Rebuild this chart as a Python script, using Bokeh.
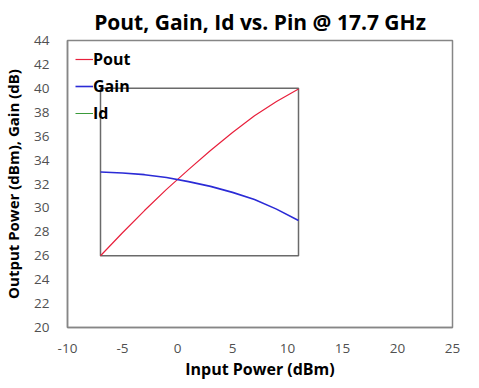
from bokeh.plotting import figure
from bokeh.models import Range1d, FixedTicker, Legend, LegendItem
from bokeh.embed import file_html
from bokeh.resources import INLINE

pin = [-7, -5, -3, -1, 1, 3, 5, 7, 9, 11]
pout = [26.0, 27.92, 29.78, 31.55, 33.2, 34.8, 36.3, 37.7, 38.9, 39.95]
gain = [33.0, 32.92, 32.78, 32.55, 32.2, 31.8, 31.3, 30.7, 29.9, 28.95]
id_pin = [float("nan")]
id_val = [float("nan")]
box_x = [-7, 11]
box_y = [26, 40]
x_ticks = [-10, -5, 0, 5, 10, 15, 20, 25]
y_ticks = [20, 22, 24, 26, 28, 30, 32, 34, 36, 38, 40, 42, 44]

FONT = "Open Sans"
GREY = "#868686"

p = figure(width=463, height=382, output_backend="svg", toolbar_location=None,
           x_range=Range1d(-10, 25), y_range=Range1d(20, 44),
           min_border_left=57, min_border_right=11, min_border_top=40, min_border_bottom=52)
p.title.text = "Pout, Gain, Id vs. Pin @ 17.7 GHz"
p.title.align = "center"
p.title.text_font = FONT
p.title.text_font_size = "21px"
p.title.text_font_style = "bold"
p.title.text_color = "#000000"
p.title.standoff = 10

p.grid.visible = False
p.outline_line_color = GREY
p.outline_line_width = 1.5
p.background_fill_color = "white"
p.border_fill_color = "white"

for ax in (p.xaxis[0], p.yaxis[0]):
    ax.axis_line_color = GREY
    ax.axis_line_width = 1.5
    ax.major_tick_line_color = None
    ax.minor_tick_line_color = None
    ax.major_label_text_font = FONT
    ax.major_label_text_font_size = "13.5px"
    ax.major_label_text_color = "#505050"
    ax.axis_label_text_font = FONT
    ax.axis_label_text_font_style = "bold"
    ax.axis_label_text_color = "#000000"

p.xaxis.axis_label_text_font_size = "16px"
p.yaxis.axis_label_text_font_size = "15px"
p.xaxis.ticker = FixedTicker(ticks=x_ticks)
p.yaxis.ticker = FixedTicker(ticks=y_ticks)
p.xaxis.major_label_overrides = {t: str(t) for t in x_ticks}
p.xaxis.major_label_standoff = 10
p.yaxis.major_label_standoff = 12
p.xaxis.axis_label = "Input Power (dBm)"
p.yaxis.axis_label = "Output Power (dBm), Gain (dB)"
p.xaxis.axis_label_standoff = 2
p.yaxis.axis_label_standoff = 8

# inner box
p.quad(left=[box_x[0]], right=[box_x[1]], bottom=[box_y[0]], top=[box_y[1]],
       fill_color=None, line_color="#6a6a6a", line_width=1.5)

r_pout = p.line(pin, pout, line_color="#e8203c", line_width=1.2)
r_gain = p.line(pin, gain, line_color="#2b2bd6", line_width=1.6)
r_id = p.line(x=id_pin, y=id_val, line_color="#3a9a3a", line_width=1)

legend = Legend(items=[LegendItem(label="Pout", renderers=[r_pout]),
                       LegendItem(label="Gain", renderers=[r_gain]),
                       LegendItem(label="Id", renderers=[r_id])],
                location="top_left")
legend.background_fill_alpha = 0
legend.border_line_color = None
legend.label_text_font = FONT
legend.label_text_font_size = "16px"
legend.label_text_font_style = "bold"
legend.label_text_color = "#000000"
legend.glyph_width = 18
legend.glyph_height = 20
legend.label_height = 20
legend.spacing = 5
legend.margin = 8
legend.padding = 0
legend.label_standoff = 0
p.add_layout(legend)

open("out.html", "w").write(file_html(p, INLINE))
